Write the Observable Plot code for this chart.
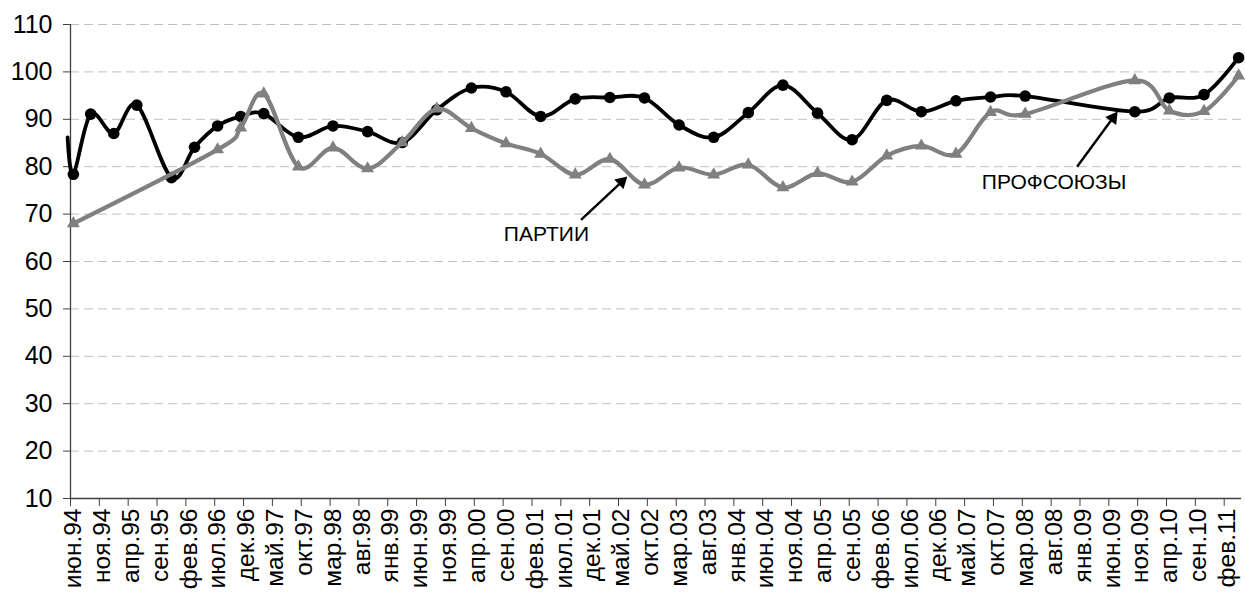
<!DOCTYPE html>
<html><head><meta charset="utf-8">
<script src="https://cdn.jsdelivr.net/npm/d3@7"></script>
<script src="https://cdn.jsdelivr.net/npm/@observablehq/plot@0.6"></script>
<style>body{margin:0;background:#fff} #chart svg{display:block}</style>
</head><body><div id="chart"></div>
<script>
// X tick labels (every 5 months, from June 1994)
const tickLabels = ["июн.94","ноя.94","апр.95","сен.95","фев.96","июл.96","дек.96","май.97","окт.97","мар.98","авг.98","янв.99","июн.99","ноя.99","апр.00","сен.00","фев.01","июл.01","дек.01","май.02","окт.02","мар.03","авг.03","янв.04","июн.04","ноя.04","апр.05","сен.05","фев.06","июл.06","дек.06","май.07","окт.07","мар.08","авг.08","янв.09","июн.09","ноя.09","апр.10","сен.10","фев.11"];
const yTicks = [10,20,30,40,50,60,70,80,90,100,110];

// ПРОФСОЮЗЫ (black, circles)
const unionDates = ["1994-05","1994-06","1994-09","1995-01","1995-05","1995-11","1996-03","1996-07","1996-11","1997-03","1997-09","1998-03","1998-09","1999-03","1999-09","2000-03","2000-09","2001-03","2001-09","2002-03","2002-09","2003-03","2003-09","2004-03","2004-09","2005-03","2005-09","2006-03","2006-09","2007-03","2007-09","2008-03","2009-10","2010-04","2010-10","2011-04"];
const unionValues = [86.2,78.4,91.1,87.0,93.0,77.7,84.1,88.6,90.6,91.2,86.2,88.6,87.4,85.1,92.0,96.6,95.8,90.6,94.3,94.6,94.5,88.8,86.2,91.4,97.2,91.3,85.7,94.0,91.6,93.9,94.7,94.9,91.6,94.5,95.2,103.0];

// ПАРТИИ (gray, triangles)
const partyDates = ["1994-06","1996-07","1996-11","1997-03","1997-09","1998-03","1998-09","1999-03","1999-09","2000-03","2000-09","2001-03","2001-09","2002-03","2002-09","2003-03","2003-09","2004-03","2004-09","2005-03","2005-09","2006-03","2006-09","2007-03","2007-09","2008-03","2009-10","2010-04","2010-10","2011-04"];
const partyValues = [68.0,83.6,88.2,95.4,80.0,84.0,79.6,85.1,92.2,88.1,84.9,82.7,78.3,81.6,76.2,79.8,78.3,80.4,75.6,78.6,76.8,82.3,84.4,82.7,91.5,91.1,98.2,91.8,91.7,99.2];

// Annotations: label, label position, arrow start, arrow tip (data coords: month, value)
const annLabels = ["ПАРТИИ","ПРОФСОЮЗЫ"];
const annTextAt = [["2001-04",65.8],["2008-08",76.7]];
const annFrom = [["2001-10",68.8],["2008-12",80.0]];
const annTo = [["2002-06",77.9],["2009-07",91.6]];

const W = 1245, H = 596, mL = 70, mR = 4, mT = 24, mB = 98;
const xDomain = [-0.5, 202.5], yDomain = [10, 110];
const monthIndex = s => { const [y, m] = s.split("-").map(Number); return (y - 1994) * 12 + (m - 6); };

const union = unionDates.map((d, i) => ({x: monthIndex(d), y: unionValues[i]}));
const party = partyDates.map((d, i) => ({x: monthIndex(d), y: partyValues[i]}));
const labelData = tickLabels.map((t, i) => ({x: i * 5, t}));
const tickPos = tickLabels.map((_, i) => i * 5 - 0.5);

const xs = d3.scaleLinear(xDomain, [mL, W - mR]);
const ys = d3.scaleLinear(yDomain, [H - mB, mT]);
const arrows = annLabels.map((lab, i) => {
  const x1 = monthIndex(annFrom[i][0]), y1 = annFrom[i][1];
  const x2 = monthIndex(annTo[i][0]), y2 = annTo[i][1];
  const px1 = xs(x1), py1 = ys(y1), px2 = xs(x2), py2 = ys(y2);
  const len = Math.hypot(px2 - px1, py2 - py1), ux = (px2 - px1) / len, uy = (py2 - py1) / len;
  const cx = px2 - ux * 7.5, cy = py2 - uy * 7.5;
  return {x1, y1, hx: xs.invert(cx), hy: ys.invert(cy), angle: Math.atan2(ux, -uy) * 180 / Math.PI,
          tx: monthIndex(annTextAt[i][0]), ty: annTextAt[i][1], label: lab};
});

const chart = Plot.plot({
  width: W, height: H, marginLeft: mL, marginRight: mR, marginTop: mT, marginBottom: mB,
  style: {fontFamily: "'Liberation Sans', Arial, sans-serif", background: "#fff", color: "#000"},
  x: {domain: xDomain, axis: null},
  y: {domain: yDomain, axis: null},
  marks: [
    Plot.gridY(yTicks.filter(v => v > 10), {stroke: "#c0c0c0", strokeOpacity: 1, strokeDasharray: "9,5"}),
    Plot.axisY({ticks: yTicks, tickSize: 7, tickPadding: 11, fontSize: 25, stroke: "#404040", fill: "#000"}),
    Plot.axisX({ticks: tickPos, tickFormat: () => "", tickSize: 8, stroke: "#404040"}),
    Plot.text(labelData, {x: "x", text: "t", frameAnchor: "bottom", dy: 10, rotate: -90, textAnchor: "end", lineAnchor: "middle", fontSize: 24.5, fill: "#000"}),
    Plot.ruleX([xDomain[0]], {stroke: "#404040", strokeWidth: 1.3}),
    Plot.ruleY([yDomain[0]], {stroke: "#404040", strokeWidth: 1.3}),
    Plot.line(union, {x: "x", y: "y", curve: "cardinal", stroke: "#000", strokeWidth: 3.8}),
    Plot.dot(union.filter(d => d.x >= 0), {x: "x", y: "y", r: 5.8, fill: "#000", stroke: "none"}),
    Plot.line(party, {x: "x", y: "y", curve: "cardinal", stroke: "#808080", strokeWidth: 4.2}),
    Plot.dot(party, {x: "x", y: "y", symbol: "triangle", r: 4.8, fill: "#808080", stroke: "none"}),
    Plot.link(arrows, {x1: "x1", y1: "y1", x2: "hx", y2: "hy", stroke: "#000", strokeWidth: 2.4}),
    Plot.dot(arrows, {x: "hx", y: "hy", symbol: "triangle", r: 5, rotate: "angle", fill: "#000", stroke: "none"}),
    Plot.text(arrows, {x: "tx", y: "ty", text: "label", fontSize: 21, fill: "#000"})
  ]
});
document.getElementById("chart").appendChild(chart);
</script>
</body></html>
